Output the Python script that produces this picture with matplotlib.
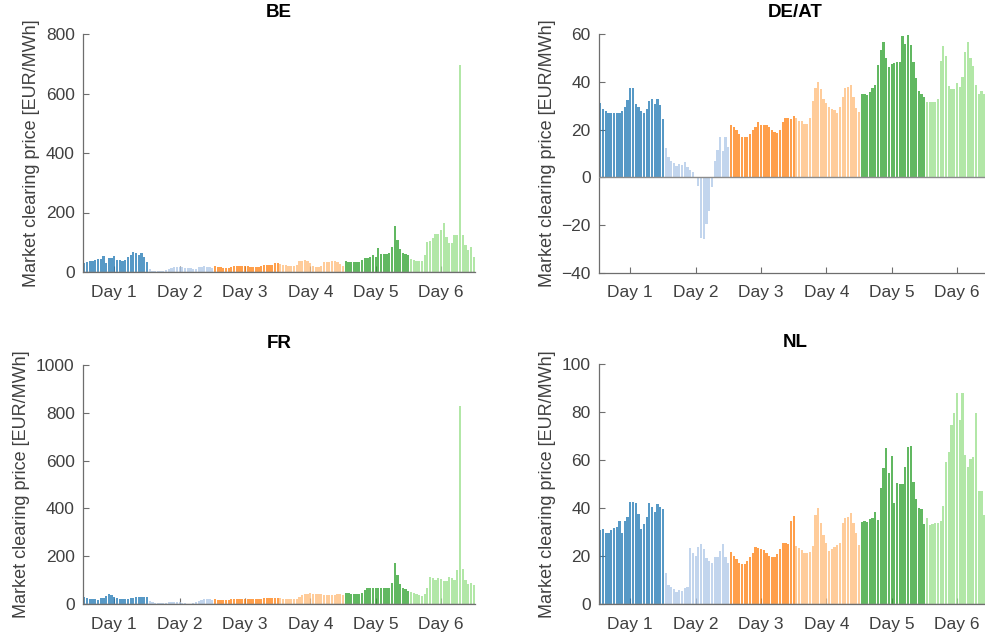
import numpy as np
import matplotlib.pyplot as plt

plt.rcParams['font.family'] = ['Liberation Sans', 'DejaVu Sans']

day_labels = ['Day 1', 'Day 2', 'Day 3', 'Day 4', 'Day 5', 'Day 6']
day_colors = ['#1f77b4', '#aec7e8', '#ff7f0e', '#ffbb78', '#2ca02c', '#98df8a']

# hourly market clearing prices, 24 values per day
be_prices = [
    30, 35, 36, 38, 41, 43, 45, 54, 31, 46, 48, 55, 42, 40, 36, 40, 52, 56, 68, 64, 58, 64, 52, 34,
    9, 5, 4, 3, 3, 4, 6, 9, 12, 16, 16, 18, 16, 14, 12, 12, 9, 11, 16, 18, 20, 18, 16, 13,
    20, 18, 16, 15, 15, 15, 18, 20, 21, 21, 20, 20, 20, 18, 18, 16, 18, 20, 24, 24, 24, 24, 29, 30,
    27, 24, 22, 20, 20, 20, 24, 37, 37, 40, 37, 29, 20, 18, 18, 20, 35, 35, 35, 37, 37, 35, 27, 20,
    37, 34, 34, 34, 34, 35, 40, 46, 48, 50, 56, 52, 80, 60, 60, 62, 65, 85, 155, 108, 76, 63, 61, 57,
    43, 40, 38, 36, 38, 57, 102, 104, 113, 127, 127, 140, 166, 119, 96, 96, 124, 124, 695, 124, 91, 75, 85, 52,
]
deat_prices = [
    31, 28.6, 27.9, 26.8, 26.8, 26.8, 26.8, 26.8, 27.9, 29.6, 32.4, 37.4, 37.4, 30.7, 29.3, 27.9, 26.8, 28.6, 32, 32.8, 30.7, 32.8, 30.4, 24.4,
    12.5, 8.4, 7, 5.9, 4.9, 5.6, 5.3, 6.6, 4.2, 3, 2.1, 0, -3.5, -25.4, -25.8, -19.5, -14, -4.2, 7, 11.4, 16.7, 11.2, 16.7, 12.6,
    22, 21, 20, 18, 17, 17, 17, 18, 20, 21, 23, 22, 22, 22, 21, 20, 19, 18.5, 20, 23, 25, 25, 24.5, 25.5,
    25, 23.5, 23.5, 22.5, 22.5, 25, 32, 37.5, 40, 37, 33, 31, 29.5, 28.5, 28, 27, 29.5, 33.5, 37.5, 38, 38.5, 33.5, 29, 27.5,
    34.7, 34.7, 34.4, 35.8, 37.2, 38.6, 47, 53.3, 56.5, 49.8, 46.3, 47.4, 48, 48.4, 48.4, 59.3, 56, 59.6, 55.4, 48.4, 41.4, 36.3, 35.1, 33.8,
    31.7, 31.7, 31.7, 31.7, 32.6, 48.8, 55, 50.8, 38.2, 36.8, 36.8, 39.6, 38, 42, 52.6, 56.8, 49.8, 46.6, 38.6, 35.1, 36, 35, 34, 33,
]
fr_prices = [
    28, 25, 23, 22, 20, 18, 24, 27, 33, 40, 36, 28, 25, 21, 21, 22, 23, 24, 25, 28, 28, 29, 30, 30,
    12, 8, 6, 5, 4, 4, 5, 7, 8, 10, 9, 7, 5, 3, 2, 2, 4, 8, 14, 17, 20, 20, 20, 17,
    20, 18, 17, 17, 17, 18, 20, 21, 21, 22, 22, 22, 22, 21, 21, 20, 21, 22, 24, 25, 25, 25, 26, 27,
    24, 22, 20, 19, 19, 20, 23, 30, 36, 40, 43, 44, 43, 42, 42, 40, 39, 39, 38, 37, 39, 40, 40, 38,
    47, 44, 43, 42, 42, 42, 45, 58, 65, 68, 68, 67, 66, 65, 65, 65, 68, 86, 170, 121, 82, 68, 63, 55,
    49, 46, 42, 38, 35, 42, 68, 113, 108, 102, 110, 106, 95, 96, 112, 108, 100, 142, 830, 145, 102, 84, 88, 78,
]
nl_prices = [
    30.8, 31.1, 29.7, 29.7, 30.8, 31.5, 31.9, 34.7, 29.7, 34.6, 36.1, 42.6, 42.6, 41.9, 37.4, 31.1, 33.3, 36.1, 42.2, 40.6, 38.2, 41.7, 40.3, 39.6,
    12.8, 7.9, 6.9, 6.1, 4.9, 5.8, 5.6, 6.5, 6.9, 23.2, 21.1, 20, 23.6, 25, 22.8, 19, 18, 17.2, 19.4, 19.4, 22.2, 24.9, 19.7, 17.2,
    21.8, 20, 18.8, 16.9, 16.7, 16.7, 17.9, 19.7, 21.4, 23.9, 23.2, 22.8, 22.5, 21.1, 20, 19.4, 19.7, 20.8, 22.8, 25.3, 25.3, 25, 34.5, 36.8,
    24.2, 23.2, 22.5, 21.4, 21.4, 21.8, 24.2, 37.1, 39.9, 33.6, 28.8, 25.3, 22.2, 22.8, 23.6, 24.6, 25.6, 33.9, 35.7, 36.4, 38.1, 33.6, 29.4, 24.6,
    34.3, 34.6, 34.3, 35.3, 35.7, 38.5, 35, 48.2, 56.5, 64.9, 54.4, 61.7, 41.9, 50.3, 50, 50, 57.2, 65.3, 65.8, 51, 43.6, 40.1, 39.6, 33.3,
    35.7, 32.9, 33.3, 33.6, 33.9, 34.6, 40.8, 59.3, 63.5, 74.6, 79.7, 88, 76.7, 88, 62.1, 56.9, 60.3, 61.4, 79.7, 47.2, 47.2, 37, 35, 33,
]

# name, prices, y limits, y step, axes rect in pixels (left, top, bottom)
panels = [
    ('BE', be_prices, (0, 800), 200, (83, 34, 272)),
    ('DE/AT', deat_prices, (-40, 60), 20, (599, 34, 273)),
    ('FR', fr_prices, (0, 1000), 200, (83, 365, 604)),
    ('NL', nl_prices, (0, 100), 20, (599, 364, 604)),
]

W, H = 985, 634
fig = plt.figure(figsize=(W / 100, H / 100), dpi=100)
axis_grey = '#6e6e6e'
text_grey = '#404040'

hours = np.arange(1, 145)
bar_colors = np.repeat(day_colors, 24)

for name, prices, ylim, ystep, (left, top, bottom) in panels:
    ax = fig.add_axes([left / W, 1 - bottom / H, 392 / W, (bottom - top) / H])
    ax.bar(hours, prices, width=0.8, color=bar_colors, alpha=0.75, linewidth=0)
    ax.axhline(0, color='#8c8c8c', lw=1, zorder=3)
    ax.set_xlim(0.5, 144.5)
    ax.set_ylim(*ylim)
    ax.set_yticks(np.arange(ylim[0], ylim[1] + 1, ystep))
    ax.set_xticks(12 + 24 * np.arange(6))
    ax.set_xticklabels(day_labels)
    ax.set_axisbelow(True)
    for s in ['top', 'right']:
        ax.spines[s].set_visible(False)
    for s in ['left', 'bottom']:
        ax.spines[s].set_color(axis_grey)
        ax.spines[s].set_linewidth(0.9)
    ax.tick_params(direction='in', length=4, color=axis_grey, labelcolor=text_grey,
                   labelsize=12.5, pad=6)
    ax.tick_params(axis='x', pad=9)
    ax.set_ylabel('Market clearing price [EUR/MWh]', fontsize=13, color=text_grey)
    ax.set_title(name, fontweight='bold', fontsize=13.5, pad=12)

fig.savefig('out.png', dpi=100)
